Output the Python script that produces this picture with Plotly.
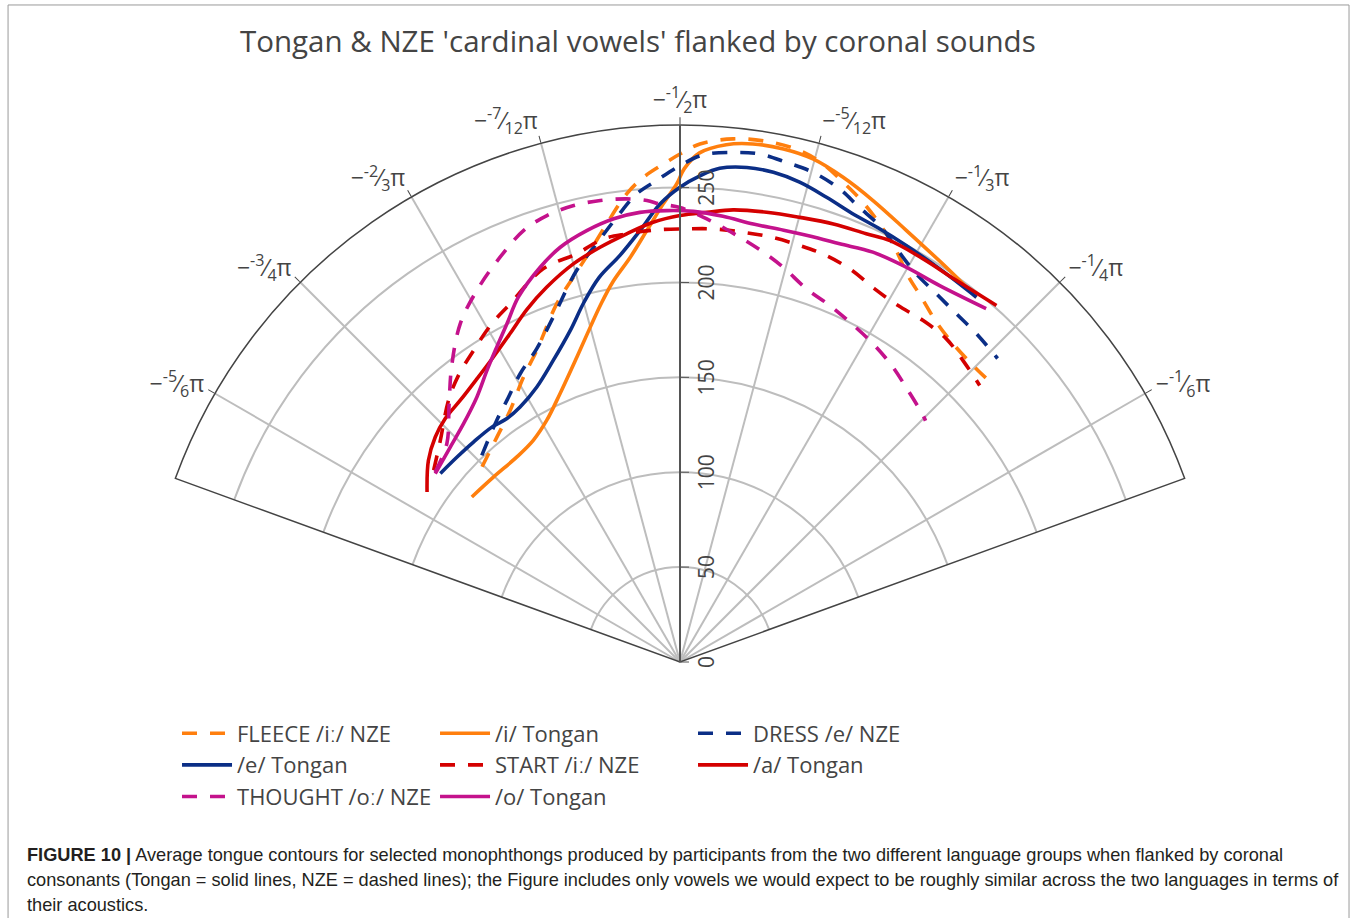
import math
import plotly.graph_objects as go

# colours picked off the figure
ORANGE = '#ff7f0e'
NAVY = '#0b2e86'
RED = '#d40000'
MAGENTA = '#c4128c'
TEXT = '#444444'
GRID = '#bdbdbd'
DASH = '15px,13px'

# tongue contours: theta in degrees (negative = above the probe), r = distance from probe
fleece_theta = [-135.4, -129.1, -124.0, -118.8, -114.7, -109.0, -105.5, -102.3, -99.5, -96.5, -94.3, -91.9,
                -90.0, -87.8, -84.2, -80.6, -76.8, -74.0, -71.2, -68.5, -65.5, -62.3, -59.5, -56.5, -53.0,
                -49.4, -45.0, -41.9]
fleece_r = [146.5, 152.9, 160.0, 171.3, 180.7, 199.6, 210.4, 221.9, 234.1, 248.3, 256.2, 262.6,
            267.7, 273.2, 277.1, 278.1, 276.8, 273.1, 267.0, 261.2, 253.7, 245.0, 236.5, 230.5, 224.4,
            221.0, 219.7, 220.3]

i_tongan_theta = [-141.6, -135.2, -128.5, -123.5, -118.9, -114.1, -108.7, -105.0, -102.5, -100.0, -97.0,
                  -94.4, -92.1, -90.4, -89.5, -87.8, -84.9, -82.0, -78.6, -75.2, -71.4, -67.3, -62.3,
                  -55.4, -50.9]
i_tongan_r = [140.0, 138.4, 138.1, 140.1, 145.4, 154.9, 169.6, 182.7, 193.0, 203.5, 214.9,
              228.0, 241.6, 251.9, 260.0, 268.5, 273.7, 275.7, 275.8, 274.2, 269.5, 263.6, 256.8,
              250.5, 247.7]

dress_theta = [-133.8, -127.2, -123.5, -119.0, -114.6, -110.2, -104.8, -101.3, -98.1, -95.3, -92.8, -90.0,
               -87.4, -84.0, -81.1, -78.0, -74.8, -71.4, -68.6, -65.0, -62.1, -58.7, -55.2, -51.6,
               -47.9, -43.7]
dress_r = [150.9, 159.8, 165.3, 173.7, 181.5, 193.6, 213.4, 224.7, 236.7, 247.7, 254.0, 261.6,
           267.5, 270.0, 271.0, 269.2, 267.4, 263.2, 257.8, 252.1, 245.4, 239.5, 236.5, 234.3,
           233.1, 231.5]

e_tongan_theta = [-141.8, -137.4, -133.2, -128.7, -125.4, -122.1, -117.5, -112.8, -108.3, -105.0, -101.9,
                  -98.4, -95.3, -92.5, -90.0, -87.6, -85.4, -82.3, -79.2, -76.0, -72.5, -68.7, -65.5,
                  -61.5, -56.6, -50.9]
e_tongan_r = [160.7, 159.6, 159.0, 158.6, 157.4, 158.6, 163.4, 172.4, 184.1, 196.0, 207.0,
              216.6, 228.3, 241.6, 250.2, 256.5, 261.0, 263.0, 262.7, 260.6, 256.8, 253.0, 251.5,
              249.8, 248.3, 247.7]

start_theta = [-142.1, -137.2, -131.5, -127.7, -123.5, -119.1, -115.4, -109.2, -104.2, -100.3, -97.1, -93.1,
               -89.1, -85.6, -81.6, -77.8, -73.9, -70.2, -66.4, -62.5, -58.6, -54.6, -50.5, -46.8, -42.7]
start_r = [164.5, 172.1, 184.1, 190.9, 197.0, 204.0, 208.9, 219.4, 221.9, 226.6, 227.4, 228.1,
           228.3, 228.9, 228.9, 229.0, 228.4, 227.7, 225.5, 221.8, 220.2, 220.9, 220.7, 217.9, 214.9]

a_tongan_theta = [-146.1, -141.3, -137.4, -134.0, -130.0, -125.6, -121.5, -117.4, -113.5, -109.6, -105.0,
                  -100.9, -97.1, -93.5, -90.0, -86.6, -83.3, -79.1, -74.9, -70.7, -66.5, -63.5, -58.9,
                  -54.1, -48.4]
a_tongan_r = [160.6, 169.9, 175.2, 178.2, 180.1, 183.7, 188.4, 194.8, 202.5, 209.6, 217.2,
              222.6, 227.4, 232.2, 235.3, 237.4, 239.9, 241.4, 242.7, 244.6, 246.1, 248.1, 248.1,
              248.3, 251.2]

thought_theta = [-142.2, -136.9, -132.0, -127.7, -123.0, -118.7, -114.0, -109.9, -106.6, -103.1, -99.8,
                 -96.6, -94.1, -92.5, -90.0, -86.1, -82.0, -78.5, -75.4, -71.3, -67.2, -63.1, -58.8,
                 -54.5, -50.0, -45.4, -44.5]
thought_r = [163.3, 168.3, 181.9, 196.8, 212.6, 223.1, 233.4, 241.9, 245.5, 247.0, 246.8,
             245.7, 243.8, 241.6, 239.5, 233.2, 226.1, 220.4, 215.1, 207.7, 203.8, 199.9, 196.2,
             192.0, 186.9, 182.5, 181.4]

o_tongan_theta = [-142.4, -136.9, -132.2, -127.5, -123.5, -120.2, -117.1, -113.9, -109.5, -106.1, -102.2,
                  -98.5, -95.1, -91.7, -88.3, -84.5, -80.5, -76.5, -72.0, -69.1, -64.8, -60.2, -55.4,
                  -49.1]
o_tongan_r = [162.8, 165.8, 169.7, 175.9, 184.3, 192.0, 200.2, 210.3, 220.7, 227.5, 232.6,
              236.2, 237.9, 238.0, 237.6, 236.0, 234.0, 234.0, 235.0, 235.9, 238.7, 239.8, 241.0,
              246.4]

series = [
    ('FLEECE /iː/ NZE', fleece_theta, fleece_r, ORANGE, True),
    ('/i/ Tongan', i_tongan_theta, i_tongan_r, ORANGE, False),
    ('DRESS /e/ NZE', dress_theta, dress_r, NAVY, True),
    ('/e/ Tongan', e_tongan_theta, e_tongan_r, NAVY, False),
    ('START /iː/ NZE', start_theta, start_r, RED, True),
    ('/a/ Tongan', a_tongan_theta, a_tongan_r, RED, False),
    ('THOUGHT /oː/ NZE', thought_theta, thought_r, MAGENTA, True),
    ('/o/ Tongan', o_tongan_theta, o_tongan_r, MAGENTA, False),
]

caption_lines = [
    "<b>FIGURE 10 |</b> Average tongue contours for selected monophthongs produced by participants from the two "
    "different language groups when flanked by coronal",
    "consonants (Tongan = solid lines, NZE = dashed lines); the Figure includes only vowels we would expect to be "
    "roughly similar across the two languages in terms of",
    "their acoustics.",
]

fig = go.Figure()
for name, th, r, col, dashed in series:
    fig.add_trace(go.Scatterpolar(
        theta=th, r=r, name=name, mode='lines',
        line=dict(color=col, width=3.6, dash=DASH if dashed else 'solid', shape='spline', smoothing=1),
    ))

fig.update_layout(
    width=1357, height=918,
    paper_bgcolor='white',
    font=dict(family='Open Sans, sans-serif', color=TEXT, size=19),
    margin=dict(l=175, r=172, t=125, b=256),
    title=dict(text="Tongan & NZE 'cardinal vowels' flanked by coronal sounds",
               xref='container', x=240 / 1357, xanchor='left',
               yref='container', y=1 - 42 / 918, yanchor='middle',
               font=dict(size=29.5, color=TEXT)),
    polar=dict(
        domain=dict(x=[0, 1], y=[0, 1]),
        sector=[20, 160],
        bgcolor='white',
        radialaxis=dict(range=[0, 283], angle=90, tick0=0, dtick=50,
                        showline=True, linecolor='#555', linewidth=2,
                        ticks='outside', ticklen=8, tickcolor='#555',
                        gridcolor=GRID, gridwidth=1.5, tickfont=dict(size=21, color=TEXT)),
        # with thetaunit radians, plotly reads tick0/dtick in radians
        angularaxis=dict(direction='clockwise', rotation=0, thetaunit='radians',
                         tickmode='linear', tick0=0, dtick=math.pi / 12,
                         showline=True, linecolor='#444', linewidth=1.5,
                         ticks='outside', ticklen=7, tickcolor='#444',
                         gridcolor=GRID, gridwidth=1.5, tickfont=dict(size=23, color=TEXT)),
    ),
    legend=dict(orientation='h', xref='paper', x=0.002, xanchor='left',
                yref='paper', y=-0.094, yanchor='top',
                font=dict(size=22, color=TEXT), itemwidth=50,
                entrywidth=193, entrywidthmode='pixels', traceorder='normal'),
)

# thin frame round the whole figure panel
fig.add_shape(type='rect', xref='paper', yref='paper',
              x0=-0.1653, x1=1.1624, y0=-0.5, y1=1.2235,
              line=dict(color='#9a9a9a', width=1))

cap_y = [855, 880, 905]
for txt, yy in zip(caption_lines, cap_y):
    fig.add_annotation(text=txt, xref='paper', yref='paper',
                       x=(25 - 175) / 1010, y=(662 - yy) / 537,
                       xanchor='left', yanchor='middle', showarrow=False,
                       font=dict(family='Liberation Sans, Arial, sans-serif', size=18.2, color='#231f20'))

fig.write_html("out.html", config={'displayModeBar': False},
               post_script="document.body.style.margin='0';document.body.style.overflow='hidden';")
